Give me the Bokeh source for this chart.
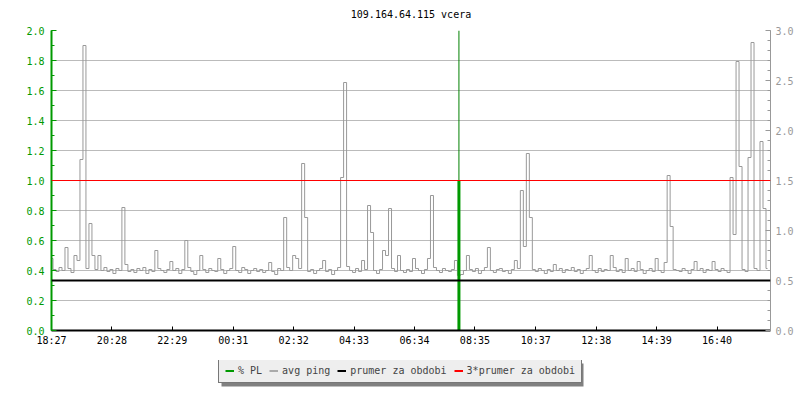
from bokeh.plotting import figure
from bokeh.layouts import column
from bokeh.models import (Range1d, LinearAxis, FixedTicker, Legend, LegendItem,
                          NumeralTickFormatter, Span, Label, BoxAnnotation)
from bokeh.embed import file_html
from bokeh.resources import INLINE

title_text = "109.164.64.115 vcera"
start_label = "18:27"
span_minutes = 1440
sample_step = 6

x_tick_labels = ["18:27", "20:28", "22:29", "00:31", "02:32", "04:33",
                 "06:34", "08:35", "10:37", "12:38", "14:39", "16:40"]

# avg ping (right axis units), one sample every 6 minutes from 18:27
avg_ping = [
    0.72, 0.61, 0.59, 0.63, 0.60, 0.83, 0.62, 0.58, 0.75, 0.70,
    1.71, 2.85, 0.62, 1.07, 0.75, 0.61, 0.75, 0.60, 0.63, 0.59,
    0.61, 0.57, 0.62, 0.60, 1.23, 0.66, 0.59, 0.61, 0.58, 0.62,
    0.60, 0.63, 0.57, 0.61, 0.59, 0.80, 0.62, 0.60, 0.58, 0.61,
    0.69, 0.60, 0.62, 0.57, 0.61, 0.90, 0.63, 0.59, 0.56, 0.60,
    0.75, 0.61, 0.58, 0.62, 0.60, 0.59, 0.72, 0.61, 0.57, 0.60,
    0.62, 0.84, 0.60, 0.58, 0.63, 0.61, 0.57, 0.60, 0.62, 0.59,
    0.61, 0.58, 0.60, 0.68, 0.59, 0.56, 0.62, 0.60, 1.13, 0.63,
    0.60, 0.75, 0.72, 0.62, 1.67, 1.13, 0.59, 0.61, 0.57, 0.60,
    0.62, 0.70, 0.59, 0.61, 0.56, 0.60, 0.63, 1.53, 2.48, 0.64,
    0.60, 0.58, 0.62, 0.59, 0.70, 0.61, 1.25, 0.98, 0.60, 0.57,
    0.61, 0.80, 0.75, 1.22, 0.62, 0.59, 0.75, 0.60, 0.58, 0.61,
    0.59, 0.72, 0.62, 0.60, 0.57, 0.61, 0.72, 1.35, 0.63, 0.60,
    0.58, 0.62, 0.60, 0.59, 0.61, 0.70, 0.55, 0.56, 0.60, 0.75,
    0.61, 0.59, 0.62, 0.57, 0.60, 0.63, 0.83, 0.60, 0.58, 0.61,
    0.62, 0.59, 0.60, 0.57, 0.61, 0.70, 0.62, 1.40, 0.84, 1.77,
    1.13, 0.61, 0.59, 0.62, 0.60, 0.57, 0.61, 0.59, 0.66, 0.60,
    0.62, 0.58, 0.61, 0.60, 0.63, 0.59, 0.61, 0.57, 0.60, 0.62,
    0.75, 0.60, 0.58, 0.62, 0.59, 0.61, 0.60, 0.75, 0.63, 0.59,
    0.61, 0.58, 0.72, 0.60, 0.62, 0.59, 0.69, 0.61, 0.57, 0.60,
    0.62, 0.59, 0.72, 0.60, 0.58, 0.68, 1.55, 1.04, 0.61, 0.60,
    0.59, 0.62, 0.60, 0.57, 0.61, 0.69, 0.60, 0.62, 0.58, 0.61,
    0.60, 0.69, 0.61, 0.59, 0.62, 0.60, 0.58, 1.53, 0.96, 2.69,
    1.64, 0.61, 0.59, 1.73, 2.88, 0.62, 0.60, 1.89, 1.22, 0.62,
]

# packet loss (left axis)
pl_minutes = [816]
pl_values = [1.0]

prumer = 0.5          # average for the period (right axis)
left_ticks = [0.0, 0.2, 0.4, 0.6, 0.8, 1.0, 1.2, 1.4, 1.6, 1.8, 2.0]
right_ticks = [0.0, 0.5, 1.0, 1.5, 2.0, 2.5, 3.0]
legend_labels = ["% PL", "avg ping", "prumer za obdobi", "3*prumer za obdobi"]

GREEN = "#009900"
GRAY = "#999999"
FONT = "DejaVu Sans Mono"
FW = 719   # frame width in px
LB = 51    # left border
RB = 26    # right border


def minutes_since_start(lbl):
    h, m = map(int, lbl.split(":"))
    sh, sm = map(int, start_label.split(":"))
    return ((h * 60 + m) - (sh * 60 + sm)) % span_minutes


def strip(height):
    f = figure(frame_width=FW, frame_height=height, x_range=Range1d(0, FW),
               y_range=Range1d(0, height), output_backend="svg", toolbar_location=None,
               min_border_left=LB, min_border_right=RB, min_border_top=0,
               min_border_bottom=0)
    f.axis.visible = False
    f.grid.visible = False
    f.outline_line_color = None
    f.background_fill_color = "white"
    f.border_fill_color = "white"
    return f


ping_minutes = [i * sample_step for i in range(len(avg_ping))]
x_tick_pos = [minutes_since_start(l) for l in x_tick_labels]

# ---- title strip
tf = strip(22)
tf.add_layout(Label(x=FW / 2, y=8, text=title_text, text_align="center",
                    text_baseline="middle", text_font=FONT, text_font_size="10px",
                    text_color="black"))

# ---- main chart
p = figure(frame_width=FW, frame_height=300,
           x_range=Range1d(0, span_minutes), y_range=Range1d(left_ticks[0], left_ticks[-1]),
           output_backend="svg", toolbar_location=None,
           min_border_left=LB, min_border_right=RB, min_border_top=8,
           min_border_bottom=30)
p.extra_y_ranges = {"ping": Range1d(right_ticks[0], right_ticks[-1])}
p.outline_line_color = None
p.background_fill_color = "white"
p.border_fill_color = "white"

xax = p.xaxis[0]
xax.ticker = FixedTicker(ticks=x_tick_pos)
xax.major_label_overrides = {pos: lbl for pos, lbl in zip(x_tick_pos, x_tick_labels)}
xax.axis_line_color = "black"
xax.axis_line_width = 2
xax.major_tick_in = 4
xax.major_tick_out = 0
xax.major_tick_line_color = "black"
xax.minor_tick_line_color = None
xax.major_label_text_font = FONT
xax.major_label_text_font_size = "10px"
xax.major_label_text_color = "black"
xax.major_label_standoff = 4

yax = p.yaxis[0]
left_minor = [round(0.1 * i, 1) for i in range(21)]
yax.ticker = FixedTicker(ticks=left_ticks, minor_ticks=left_minor)
yax.formatter = NumeralTickFormatter(format="0.0")
yax.axis_line_color = GREEN
yax.axis_line_width = 2
yax.major_tick_in = 5
yax.major_tick_out = 0
yax.minor_tick_in = 3
yax.minor_tick_out = 0
yax.major_tick_line_color = GREEN
yax.minor_tick_line_color = GREEN
yax.major_label_text_font = FONT
yax.major_label_text_font_size = "10px"
yax.major_label_text_color = GREEN
yax.major_label_standoff = 7

rax = LinearAxis(y_range_name="ping")
right_minor = [round(0.1 * i, 1) for i in range(31)]
rax.ticker = FixedTicker(ticks=right_ticks, minor_ticks=right_minor)
rax.formatter = NumeralTickFormatter(format="0.0")
rax.axis_line_color = GRAY
rax.axis_line_width = 1
rax.major_tick_in = 5
rax.major_tick_out = 0
rax.minor_tick_in = 3
rax.minor_tick_out = 0
rax.major_tick_line_color = GRAY
rax.minor_tick_line_color = GRAY
rax.major_label_text_font = FONT
rax.major_label_text_font_size = "10px"
rax.major_label_text_color = GRAY
rax.major_label_standoff = 5
p.add_layout(rax, "right")

p.xgrid.visible = False
p.ygrid.ticker = FixedTicker(ticks=left_ticks)
p.ygrid.grid_line_color = "#bbbbbb"
p.ygrid.grid_line_width = 1

p.step(ping_minutes, avg_ping, y_range_name="ping", mode="center",
       line_color=GRAY, line_width=1)

p.add_layout(Span(location=prumer, dimension="width", y_range_name="ping",
                  line_color="black", line_width=2))
p.add_layout(Span(location=3 * prumer, dimension="width", y_range_name="ping",
                  line_color="red", line_width=1.2))

p.segment(x0=pl_minutes, y0=[0] * len(pl_minutes), x1=pl_minutes, y1=pl_values,
          line_color=GREEN, line_width=3)
p.segment(x0=pl_minutes, y0=pl_values, x1=pl_minutes,
          y1=[left_ticks[-1]] * len(pl_minutes), line_color="#008000", line_width=1)

# ---- legend strip
lf = strip(32)
legend_colors = [GREEN, "#aaaaaa", "black", "red"]
# single-point proxies: they draw nothing but give the legend its swatches
proxies = [lf.line(x=[0], y=[0], line_color=c, line_width=2) for c in legend_colors]

LEG_X, LEG_Y, LEG_W, LEG_H = 167, 9, 362, 23
lf.add_layout(BoxAnnotation(left=LEG_X + 3, right=LEG_X + LEG_W + 3,
                            bottom=LEG_Y - 3, top=LEG_Y + LEG_H - 3,
                            fill_color="#808080", fill_alpha=1, line_color=None))
legend = Legend(items=[LegendItem(label=l, renderers=[r]) for l, r in zip(legend_labels, proxies)],
                orientation="horizontal", location=(LEG_X, LEG_Y),
                label_text_font=FONT, label_text_font_size="10px",
                label_height=11, glyph_height=11, glyph_width=9,
                label_standoff=4, spacing=7, padding=6, margin=0,
                border_line_color="black", border_line_width=1,
                background_fill_color="#eeeeee", background_fill_alpha=1)
lf.add_layout(legend, "center")

layout = column(tf, p, lf, spacing=0)
open("out.html", "w").write(file_html(layout, INLINE))
